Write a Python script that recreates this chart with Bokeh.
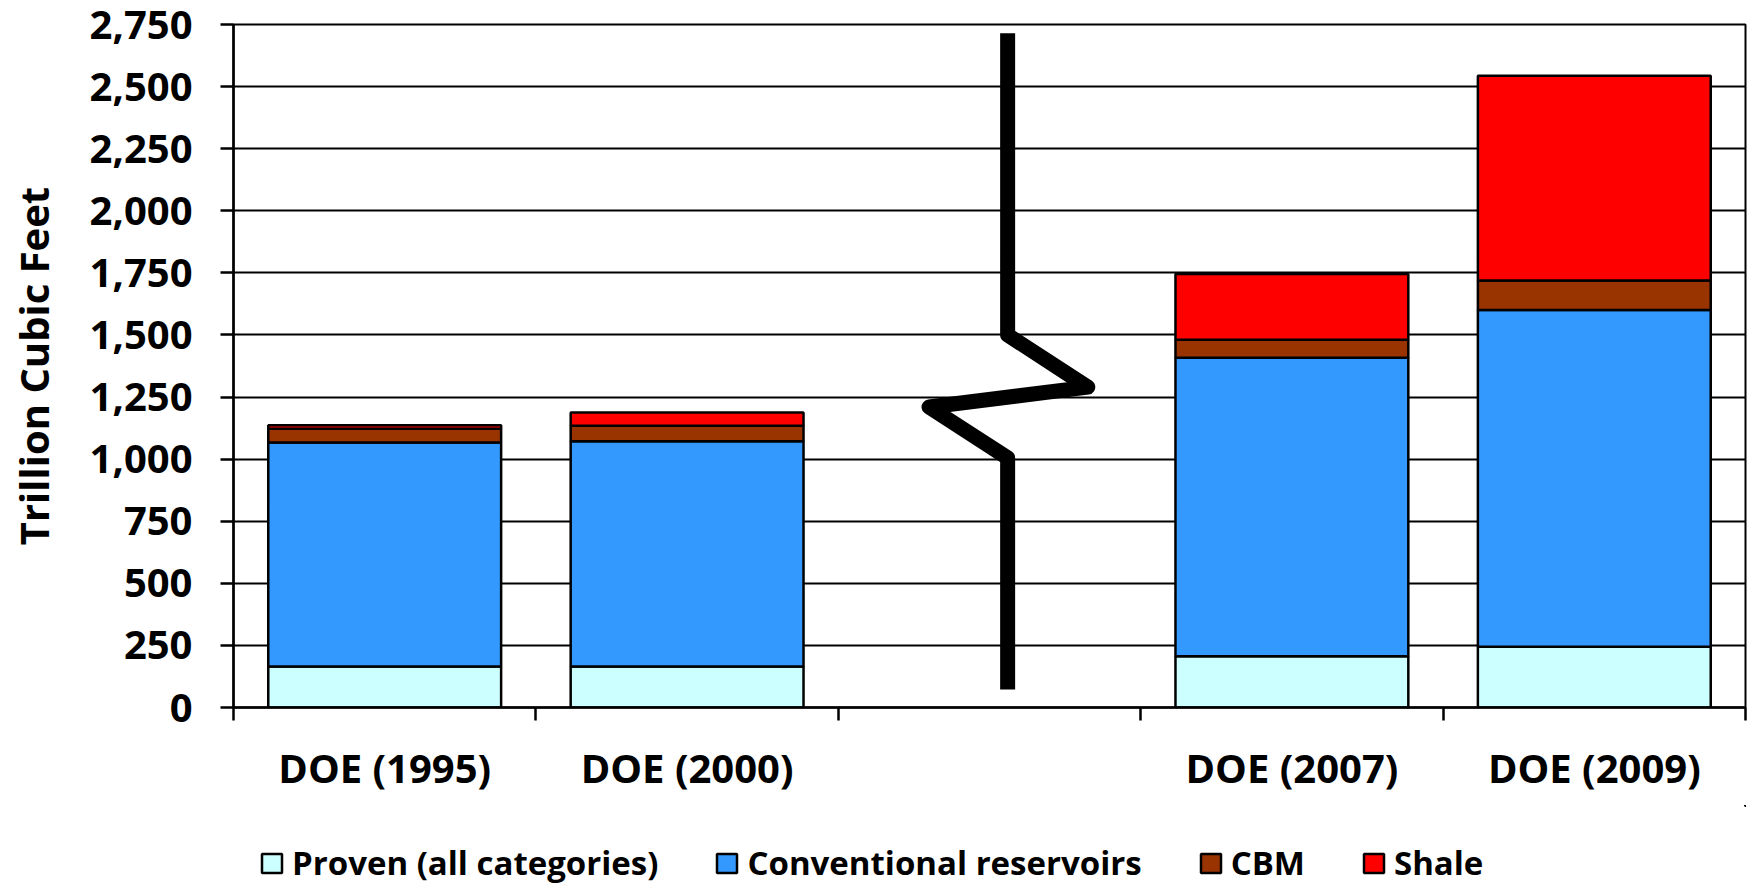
from bokeh.plotting import figure
from bokeh.layouts import column
from bokeh.models import (ColumnDataSource, Range1d, FixedTicker, NumeralTickFormatter,
                          Legend, LegendItem)
from bokeh.embed import file_html
from bokeh.resources import INLINE

# ---- data ----
categories = ["DOE (1995)", "DOE (2000)", "DOE (2007)", "DOE (2009)"]
cat_pos = [0.5, 1.5, 3.5, 4.5]
proven = [165, 165, 206, 245]
conventional = [902, 907, 1202, 1355]
cbm = [55, 62, 73, 119]
shale = [14, 54, 264, 825]
series_names = ["Proven (all categories)", "Conventional reservoirs", "CBM", "Shale"]
series_keys = ["proven", "conventional", "cbm", "shale"]
colors = ["#CCFFFF", "#3399FF", "#993300", "#FF0000"]
y_ticks = [0, 250, 500, 750, 1000, 1250, 1500, 1750, 2000, 2250, 2500, 2750]
boundaries = [0, 1, 2, 3, 4, 5]
# axis-break symbol (zig-zag) in data units
break_x = [2.56, 2.56, 2.825, 2.30, 2.56, 2.56]
break_y = [2715, 1500, 1290, 1210, 1005, 72]

FONT = "Open Sans"

source = ColumnDataSource(dict(x=cat_pos, proven=proven, conventional=conventional,
                               cbm=cbm, shale=shale))

MAIN_H = 805
p = figure(width=1748, height=MAIN_H, x_range=Range1d(0, 5), y_range=Range1d(0, 2750),
           output_backend="svg", toolbar_location=None,
           min_border_left=233, min_border_right=3, min_border_top=24,
           min_border_bottom=MAIN_H - 707)
p.background_fill_color = "white"
p.border_fill_color = "white"
p.outline_line_color = "black"
p.outline_line_width = 2

rs = p.vbar_stack(series_keys, x="x", width=0.77, color=colors, line_color="black",
                  line_width=2.5, source=source)

p.line(break_x, break_y, line_color="black", line_width=15, line_join="round", line_cap="butt")

# grid
p.xgrid.visible = False
p.ygrid.ticker = FixedTicker(ticks=y_ticks)
p.ygrid.grid_line_color = "black"
p.ygrid.grid_line_width = 2
p.ygrid.level = "underlay"

# y axis
p.yaxis.ticker = FixedTicker(ticks=y_ticks)
p.yaxis.formatter = NumeralTickFormatter(format="0,0")
p.yaxis.axis_label = "Trillion Cubic Feet"
p.yaxis.axis_label_text_font = FONT
p.yaxis.axis_label_text_font_style = "bold"
p.yaxis.axis_label_text_font_size = "40px"
p.yaxis.axis_label_text_color = "black"
p.yaxis.axis_label_standoff = 26
p.yaxis.major_label_text_font = FONT
p.yaxis.major_label_text_font_style = "bold"
p.yaxis.major_label_text_font_size = "40px"
p.yaxis.major_label_text_color = "black"
p.yaxis.major_label_standoff = 28
p.yaxis.major_tick_out = 13
p.yaxis.major_tick_in = 0
p.yaxis.major_tick_line_width = 2.5
p.yaxis.minor_tick_line_color = None
p.yaxis.axis_line_width = 2.5

# x axis
p.xaxis.ticker = FixedTicker(ticks=cat_pos, minor_ticks=boundaries)
p.xaxis.major_label_overrides = {pos: lab for pos, lab in zip(cat_pos, categories)}
p.xaxis.major_label_text_font = FONT
p.xaxis.major_label_text_font_style = "bold"
p.xaxis.major_label_text_font_size = "40px"
p.xaxis.major_label_text_color = "black"
p.xaxis.major_label_standoff = 19
p.xaxis.major_tick_out = 0
p.xaxis.major_tick_in = 0
p.xaxis.minor_tick_out = 13
p.xaxis.minor_tick_in = 0
p.xaxis.minor_tick_line_width = 2.5
p.xaxis.minor_tick_line_color = "black"
p.xaxis.axis_line_width = 2.5

# ---- legend strip below the chart (its proxy bars lie outside its own view) ----
p2 = figure(width=1748, height=885 - MAIN_H, x_range=Range1d(-101, -100),
            y_range=Range1d(-5001, -5000),
            output_backend="svg", toolbar_location=None, min_border=0,
            x_axis_location=None, y_axis_location=None)
p2.outline_line_color = None
p2.grid.visible = False
p2.background_fill_color = "white"
p2.border_fill_color = "white"
proxies = p2.vbar_stack(series_keys, x="x", width=0.77, color=colors, line_color="black",
                        line_width=2.5, source=source)

legend = Legend(items=[LegendItem(label=n, renderers=[r]) for n, r in zip(series_names, proxies)],
                orientation="horizontal", location=(26, 0))
legend.label_text_font = FONT
legend.label_text_font_style = "bold"
legend.label_text_font_size = "33px"
legend.label_text_color = "black"
legend.glyph_width = 25
legend.glyph_height = 24
legend.label_standoff = 8
legend.spacing = 56
legend.padding = 2
legend.margin = 0
legend.border_line_color = None
legend.background_fill_alpha = 0
p2.add_layout(legend, "center")

layout = column(p, p2, spacing=0)
open("out.html", "w").write(file_html(layout, INLINE))
